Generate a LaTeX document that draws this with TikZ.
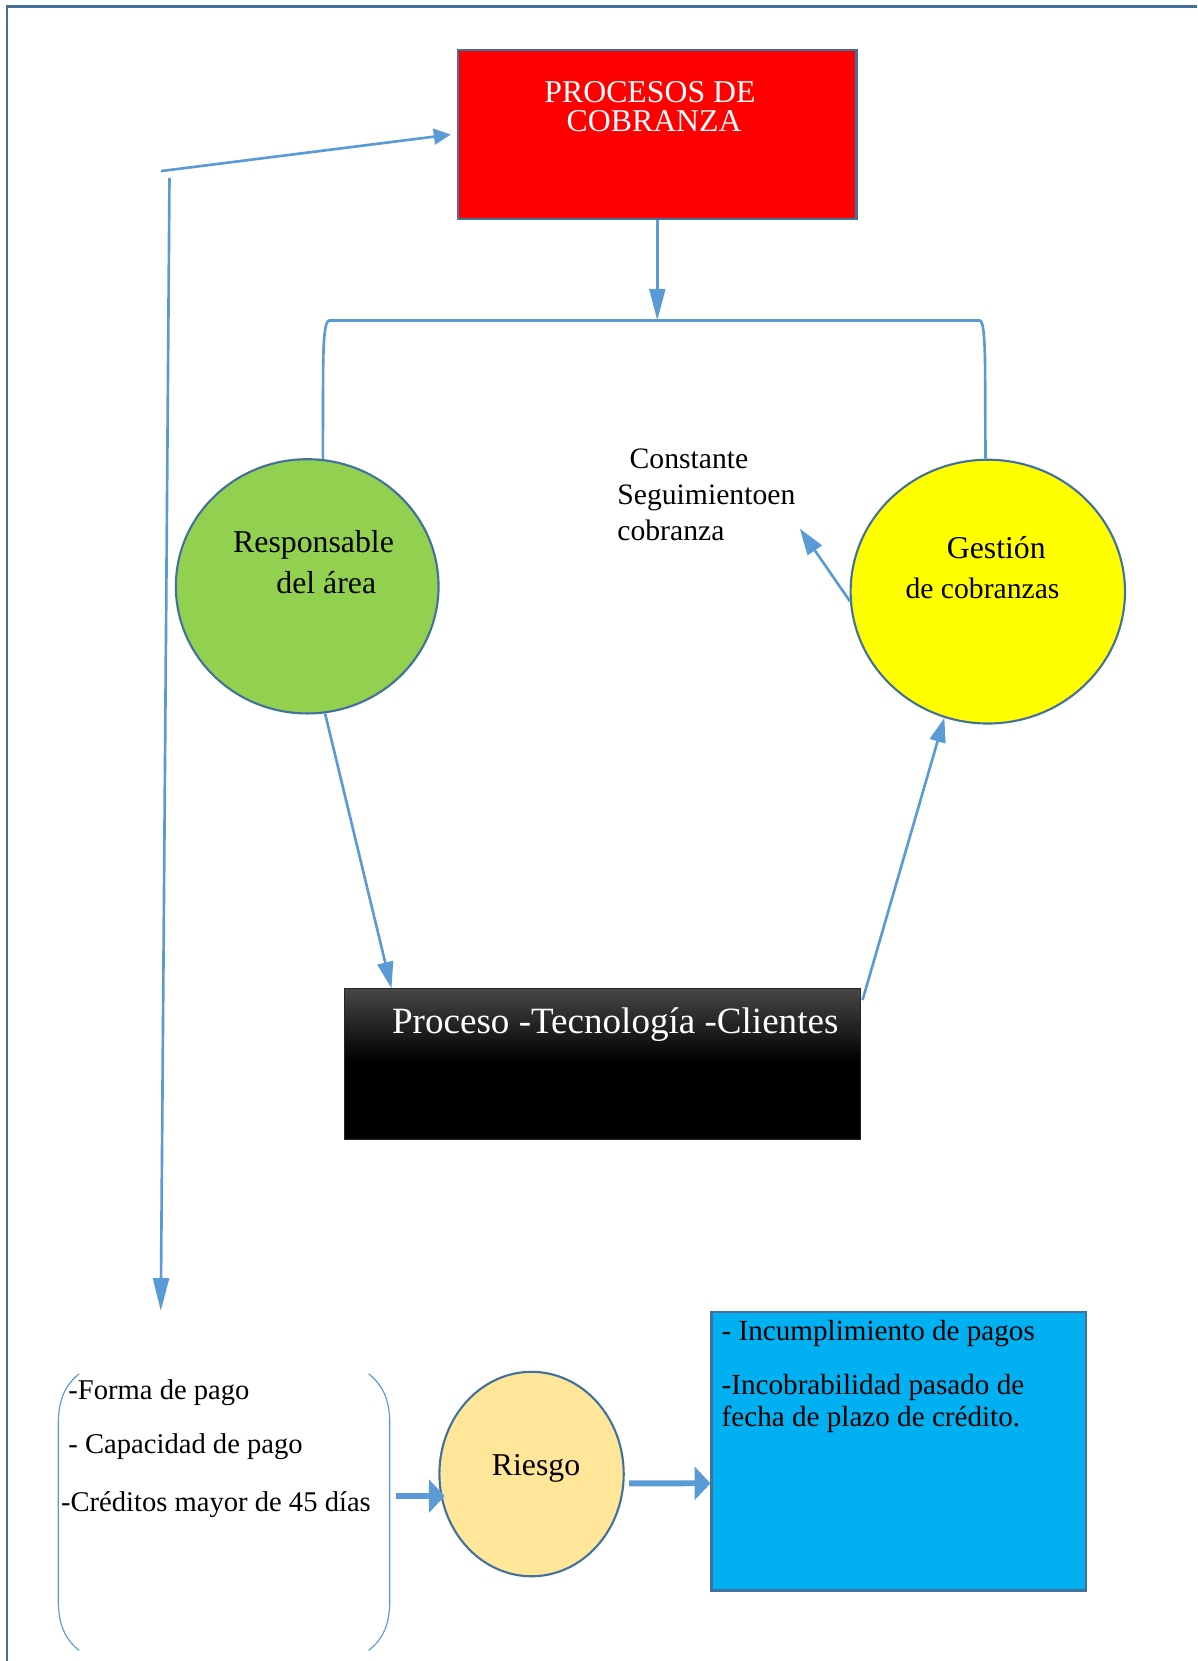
\documentclass[tikz,border=0pt]{standalone}
\usepackage{fontspec}
\setmainfont{Liberation Serif}
\usetikzlibrary{arrows.meta,shapes.geometric,calc}
\definecolor{conn}{HTML}{5B9BD5}
\definecolor{bord}{HTML}{41719C}
\definecolor{redfill}{HTML}{FF0000}
\definecolor{greenfill}{HTML}{92D050}
\definecolor{yellowfill}{HTML}{FFFF00}
\definecolor{riskfill}{HTML}{FFE699}
\definecolor{bluefill}{HTML}{00B0F0}
\definecolor{darktop}{HTML}{474747}
\pgfdeclareverticalshading{blackfade}{100bp}{color(0bp)=(black); color(25bp)=(black); color(51bp)=(black); color(75bp)=(darktop); color(100bp)=(darktop)}
\newcommand\fsz[1]{\fontsize{#1}{#1}\selectfont}
\begin{document}
\begin{tikzpicture}[x=1pt,y=-1pt,
  box/.style={draw=bord,line width=2pt,inner sep=0pt,rectangle},
  oval/.style={draw=bord,line width=2pt,ellipse,inner sep=0pt},
  txt/.style={inner sep=0pt,anchor=base west},
  ctxt/.style={inner sep=0pt,anchor=base},
  link/.style={draw=conn,line width=2.5pt},
  bigarrow/.style={draw=conn,fill=conn,line width=5.5pt,-{Triangle[length=15pt,width=31pt]}},
  paren/.style={draw=conn,line width=1.1pt}]
\useasboundingbox (0,0) rectangle (1130,1568);
% frame
\draw[draw=bord,line width=2.2pt] (1130,6) -- (6.5,6) -- (6.5,1568);

% nodes
\node[box,fill=redfill,minimum width=376pt,minimum height=160pt] (red) at (620.5,127) {};
\node[ctxt,text=white,font=\fsz{30}] (redA) at (613.6,97) {PROCESOS DE};
\node[ctxt,text=white,font=\fsz{30}] (redB) at (617.5,124.4) {COBRANZA};

\node[oval,fill=greenfill,minimum width=248pt,minimum height=240pt] (green) at (290,553.5) {};
\node[ctxt,font=\fsz{30}] (greenA) at (296,522) {Responsable};
\node[ctxt,font=\fsz{30}] (greenB) at (308,560) {del área};

\node[oval,fill=yellowfill,minimum width=259pt,minimum height=249pt] (yellow) at (932.5,558.5) {};
\node[ctxt,font=\fsz{30}] (yellowA) at (940.5,527) {Gestión};
\node[ctxt,font=\fsz{28}] (yellowB) at (927.5,565) {de cobranzas};

\node[txt,font=\fsz{28}] (cstA) at (594.2,442.4) {Constante};
\node[txt,font=\fsz{28}] (cstB) at (582.6,476.1) {Seguimientoen};
\node[txt,font=\fsz{28}] (cstC) at (582.6,510) {cobranza};
\coordinate (cstpt) at (755,499);

\node[draw=black!85,line width=1pt,inner sep=0pt,minimum width=487.7pt,minimum height=142pt,
  shading=blackfade] (black) at (568.9,1004.5) {};
\node[ctxt,text=white,font=\fsz{35}] (blackA) at (580.8,975.6) {Proceso -Tecnología -Clientes};

\node[txt,font=\fsz{27}] (lstA) at (64.4,1321) {-Forma de pago};
\node[txt,font=\fsz{27}] (lstB) at (64.4,1372) {- Capacidad de pago};
\node[txt,font=\fsz{27}] (lstC) at (57.4,1427) {-Créditos mayor de 45 días};

\node[oval,fill=riskfill,minimum width=174pt,minimum height=193pt] (riesgo) at (501.8,1391.5) {};
\node[ctxt,font=\fsz{30}] (riesgoA) at (506,1392.5) {Riesgo};

\node[box,fill=bluefill,minimum width=353.3pt,minimum height=262.9pt] (blue) at (848.35,1369.95) {};
\node[txt,font=\fsz{27.5}] (blueA) at (681.1,1265.3) {- Incumplimiento de pagos};
\node[txt,font=\fsz{27.5}] (blueB) at (681.1,1316.3) {-Incobrabilidad pasado de};
\node[txt,font=\fsz{27.5}] (blueC) at (681.1,1346.8) {fecha de plazo de crédito.};

% parentheses around the list
\draw[paren] (74.6,1297) .. controls (61,1308) and (55,1322) .. (55,1345) -- (55,1510)
  .. controls (55,1533) and (61,1547) .. (74.6,1558);
\draw[paren] (348,1297) .. controls (362,1308) and (368,1322) .. (368,1345) -- (368,1510)
  .. controls (368,1533) and (362,1547) .. (348,1558);

% connectors
\coordinate (barL) at (310.8,302.6);
\coordinate (barR) at (924.9,302.6);
\draw[link,-{Triangle[length=30pt,width=15pt]}] (red.south) -- (red.south |- barL);
\draw[link] (green.83) -- (305,360) .. controls (305,320) and (306.5,303) .. (barL) -- (barR)
  .. controls (928.5,303) and (930,320) .. (930,360) -- (yellow.91);
\draw[link,-{Triangle[length=25pt,width=15pt]}] (green.-82.4) -- ($(black.north west)+(45,0)$);
\draw[link,-{Triangle[length=23pt,width=15pt]}] ($(black.north east)+(1,11)$) -- (yellow.251.4);
\draw[link,-{Triangle[length=25pt,width=16pt]}] (yellow.184) -- (cstpt);

\coordinate (tlA) at (152,161.5);
\draw[link,-{Triangle[length=16pt,width=15pt]}] (tlA) -- ([xshift=-6pt]red.west);
\coordinate (vtop) at (160,168);
\coordinate (vbot) at (151.8,1237.6);
\draw[link,-{Triangle[length=31pt,width=15pt]}] (vtop) -- (vbot);

\coordinate (lst) at (373.7,1412.3);
\draw[bigarrow] (lst) -- ($(riesgo.west)+(6,20.8)$);
\draw[bigarrow] ($(riesgo.east)+(4,8.8)$) -- ($(blue.west)+(0,30.3)$);
\end{tikzpicture}
\end{document}
